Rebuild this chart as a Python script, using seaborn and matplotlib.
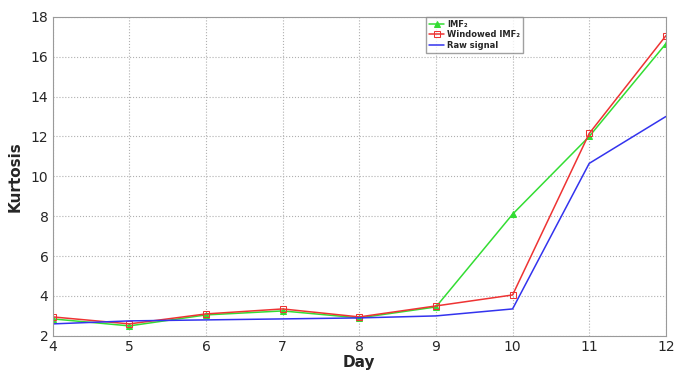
import numpy as np
import pandas as pd
import matplotlib
matplotlib.use('Agg')
import matplotlib.pyplot as plt
import seaborn as sns

days = [4, 5, 6, 7, 8, 9, 10, 11, 12]
imf2 = [2.85, 2.5, 3.05, 3.25, 2.9, 3.45, 8.1, 12.0, 16.65]
windowed_imf2 = [2.95, 2.6, 3.1, 3.35, 2.95, 3.5, 4.05, 12.15, 17.05]
raw_signal = [2.6, 2.75, 2.8, 2.85, 2.9, 3.0, 3.35, 10.65, 13.0]

series_names = ['IMF\u2082', 'Windowed IMF\u2082', 'Raw signal']

df = pd.DataFrame({
    'Day': days * 3,
    'Kurtosis': imf2 + windowed_imf2 + raw_signal,
    'series': [series_names[0]] * 9 + [series_names[1]] * 9 + [series_names[2]] * 9,
})

sns.set_style('whitegrid', {'grid.linestyle': ':', 'grid.color': '#b0b0b0',
                            'axes.edgecolor': '#9a9a9a'})
plt.rcParams['font.family'] = ['DejaVu Sans']

fig = plt.figure(figsize=(6.76, 3.74), dpi=100)
ax = fig.add_axes([0.078, 0.102, 0.907, 0.853])

palette = {series_names[0]: '#33dd33', series_names[1]: '#ee3333', series_names[2]: '#3333ee'}
markers = {series_names[0]: '^', series_names[1]: 's', series_names[2]: None}

for name in series_names:
    sub = df[df['series'] == name]
    sns.lineplot(data=sub, x='Day', y='Kurtosis', ax=ax, color=palette[name],
                 marker=markers[name], markersize=4,
                 markerfacecolor='none' if name == series_names[1] else palette[name],
                 markeredgecolor=palette[name], linewidth=1.1, label=name)

ax.set_xlim(4, 12)
ax.set_ylim(2, 18)
ax.set_xticks(days)
ax.set_yticks(np.arange(2, 19, 2))
ax.tick_params(labelsize=10, length=0, pad=3)
ax.set_xlabel('Day', fontsize=11, fontweight='bold', labelpad=1)
ax.set_ylabel('Kurtosis', fontsize=11, fontweight='bold', labelpad=6)
ax.grid(True, linestyle=':', color='#b0b0b0', linewidth=0.8)
for s in ax.spines.values():
    s.set_color('#9a9a9a')

leg = ax.legend(loc='upper left', bbox_to_anchor=(0.609, 1.0), borderaxespad=0,
                fontsize=6, frameon=True, fancybox=False, edgecolor='#888888',
                handlelength=1.8, borderpad=0.35, labelspacing=0.2,
                handletextpad=0.4)
for t in leg.get_texts():
    t.set_fontweight('bold')

fig.savefig('out.png', dpi=100)
